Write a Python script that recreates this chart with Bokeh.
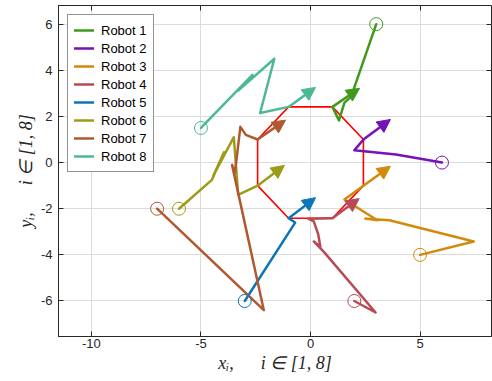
from bokeh.plotting import figure
from bokeh.models import (ColumnDataSource, Arrow, NormalHead, FixedTicker, LinearAxis,
                          Legend, LegendItem, Range1d)
from bokeh.embed import file_html
from bokeh.resources import INLINE

names = ["Robot 1", "Robot 2", "Robot 3", "Robot 4", "Robot 5", "Robot 6", "Robot 7", "Robot 8"]
colors = ["#3f9a1c", "#7512b8", "#d28a0a", "#b84a55", "#0b76b8", "#9c9c18", "#b0582f", "#4db898"]

# trajectories (first point = start, last point = final octagon vertex)
r1_x = [3.0, 1.85, 1.55, 1.30, 1.0]
r1_y = [6.0, 2.85, 2.60, 1.83, 2.414]
r2_x = [6.0, 3.9, 2.0, 2.414]
r2_y = [0.0, 0.35, 0.53, 1.0]
r3_x = [5.0, 7.45, 3.6, 2.5, 3.05, 1.55, 2.414]
r3_y = [-4.0, -3.42, -2.5, -2.43, -2.5, -1.6, -1.0]
r4_x = [2.0, 2.97, 0.62, 0.15, 0.45, 0.35, 0.15, -0.1, 1.0]
r4_y = [-6.0, -6.5, -3.88, -3.42, -3.65, -3.1, -2.55, -2.43, -2.414]
r5_x = [-3.0, -0.7, -1.0]
r5_y = [-6.0, -2.6, -2.414]
r6_x = [-6.0, -4.5, -3.95, -4.45, -3.5, -3.3, -2.414]
r6_y = [-2.0, -0.75, 0.45, -0.6, 1.1, -1.4, -1.0]
r7_x = [-7.0, -2.13, -3.58, -3.45, -3.2, -2.95, -2.414]
r7_y = [-2.0, -6.4, -0.1, -0.45, 1.55, 1.2, 1.0]
r8_x = [-5.0, -2.65, -3.3, -1.65, -2.3, -1.0]
r8_y = [1.5, 3.8, 3.12, 4.5, 2.15, 2.414]

# heading arrows (from final vertex to tip)
tip_x = [2.24, 3.65, 3.65, 2.22, 0.23, -1.19, -1.14, 0.23]
tip_y = [3.22, 1.87, -0.16, -1.56, -1.52, -0.12, 1.84, 3.26]

# formation octagon
oct_x = [-1.0, 1.0, 2.414, 2.414, 1.0, -1.0, -2.414, -2.414, -1.0]
oct_y = [2.414, 2.414, 1.0, -1.0, -2.414, -2.414, -1.0, 1.0, 2.414]

x_ticks = [-10, -5, 0, 5]
x_tick_labels = ["-10", "-5", "0", "5"]
y_ticks = [-6, -4, -2, 0, 2, 4, 6]
y_tick_labels = ["-6", "-4", "-2", "0", "2", "4", "6"]

paths_x = [r1_x, r2_x, r3_x, r4_x, r5_x, r6_x, r7_x, r8_x]
paths_y = [r1_y, r2_y, r3_y, r4_y, r5_y, r6_y, r7_y, r8_y]

AX = "#262626"

p = figure(width=492, height=381, output_backend="svg", toolbar_location=None,
           x_range=Range1d(-11.5, 8.26), y_range=Range1d(-7.54, 6.81),
           min_border_left=58, min_border_right=1, min_border_top=5, min_border_bottom=45)
p.background_fill_color = "white"
p.border_fill_color = "white"
p.outline_line_color = AX
p.outline_line_width = 1

for ax, ticks, labels in ((p.xaxis[0], x_ticks, x_tick_labels), (p.yaxis[0], y_ticks, y_tick_labels)):
    ax.ticker = FixedTicker(ticks=ticks)
    ax.major_label_overrides = {t: l for t, l in zip(ticks, labels)}
    ax.major_tick_in = 5
    ax.major_tick_out = 0
    ax.minor_tick_in = 0
    ax.minor_tick_out = 0
    ax.axis_line_color = AX
    ax.major_tick_line_color = AX
    ax.major_label_text_font = "Liberation Sans"
    ax.major_label_text_font_size = "13px"
    ax.major_label_text_color = AX
    ax.axis_label_text_font = "Liberation Serif"
    ax.axis_label_text_font_style = "italic"
    ax.axis_label_text_font_size = "18px"
    ax.axis_label_text_color = AX

p.xaxis.major_label_standoff = 2
p.yaxis.major_label_standoff = 6
p.xaxis.axis_label = "x\u1d62,\u2003\u2002i \u2208 [1, 8]"
p.yaxis.axis_label = "y\u1d62,\u2003\u2002i \u2208 [1, 8]"
p.xaxis.axis_label_standoff = 2
p.yaxis.axis_label_standoff = 2

p.xgrid.ticker = FixedTicker(ticks=x_ticks)
p.ygrid.ticker = FixedTicker(ticks=y_ticks)
p.grid.grid_line_color = "#dcdcdc"
p.grid.grid_line_width = 1

for loc, ticks in (("above", x_ticks), ("right", y_ticks)):
    ax = LinearAxis(ticker=FixedTicker(ticks=ticks),
                    major_label_overrides={t: "" for t in ticks},
                    major_label_text_font_size="0px", major_label_standoff=0,
                    major_tick_in=5, major_tick_out=0, minor_tick_in=0, minor_tick_out=0,
                    axis_line_color=None, major_tick_line_color=AX)
    p.add_layout(ax, loc)

# octagon
p.line(oct_x, oct_y, line_color="#ff0000", line_width=1.6)

items = []
for i in range(8):
    r = p.line(paths_x[i], paths_y[i], line_color=colors[i], line_width=2.5,
               line_join="round", line_cap="round")
    items.append(LegendItem(label=names[i], renderers=[r]))
    src = ColumnDataSource(dict(x0=[paths_x[i][-1]], y0=[paths_y[i][-1]],
                                x1=[tip_x[i]], y1=[tip_y[i]]))
    p.add_layout(Arrow(source=src, x_start="x0", y_start="y0", x_end="x1", y_end="y1",
                       line_color=colors[i], line_width=2.5,
                       end=NormalHead(size=13, fill_color=colors[i], line_color=colors[i],
                                      line_width=1)))

start_x = [px[0] for px in paths_x]
start_y = [py[0] for py in paths_y]
p.scatter(start_x, start_y, marker="circle", size=13, fill_alpha=0,
          line_color=colors, line_width=1)

legend = Legend(items=items, location="top_left")
legend.margin = 9
legend.padding = 6
legend.spacing = 0
legend.glyph_width = 20
legend.glyph_height = 18
legend.label_height = 18
legend.label_standoff = 7
legend.label_text_font = "Liberation Sans"
legend.label_text_font_size = "13px"
legend.label_text_color = "black"
legend.border_line_color = AX
legend.border_line_width = 1
legend.background_fill_color = "white"
legend.background_fill_alpha = 1
p.add_layout(legend)

open("out.html", "w").write(file_html(p, INLINE))
